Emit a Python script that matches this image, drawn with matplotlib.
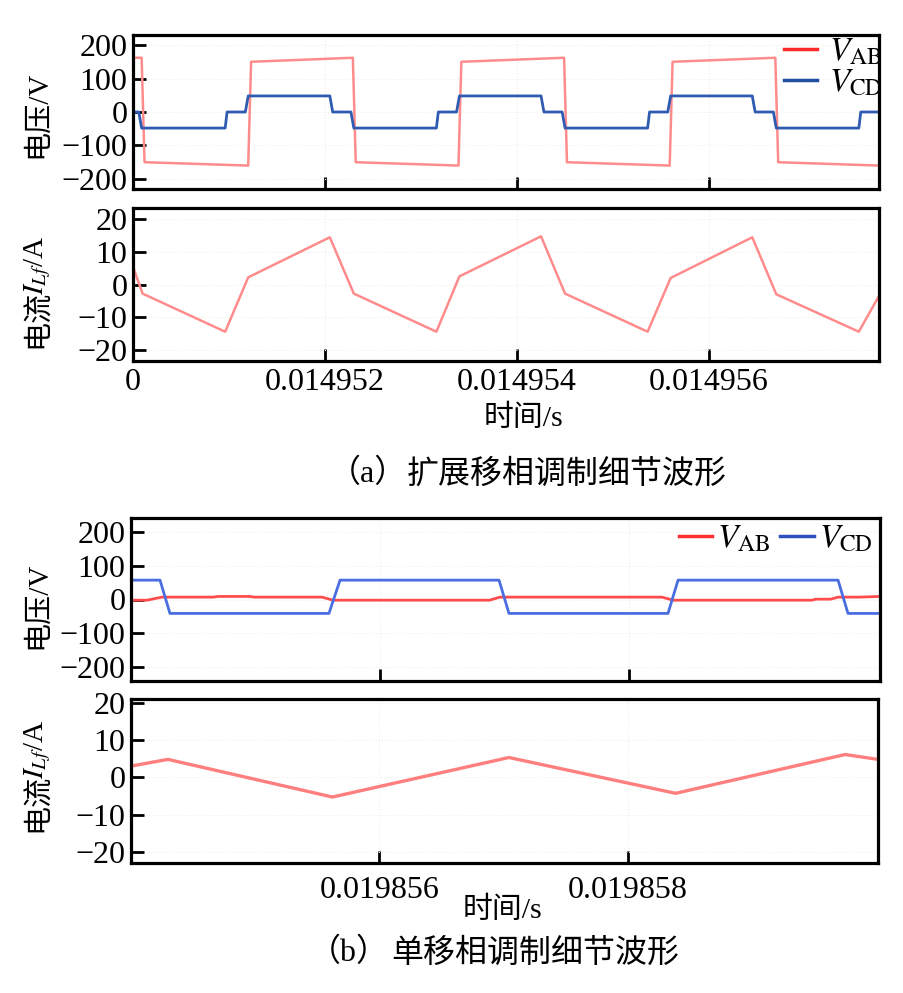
import matplotlib
matplotlib.use("Agg")
import matplotlib.pyplot as plt
from matplotlib.lines import Line2D

plt.rcParams['font.family'] = ['Liberation Serif', 'Noto Sans CJK SC', 'DejaVu Sans']
plt.rcParams['mathtext.fontset'] = 'stix'
plt.rcParams['axes.unicode_minus'] = True

# ---------------- data: panel (a) extended phase shift ----------------
t_a_vab = [0.01495000, 0.01495009, 0.01495012, 0.01495120, 0.01495123, 0.01495229,
           0.01495232, 0.01495339, 0.01495342, 0.01495449, 0.01495452, 0.01495559,
           0.01495562, 0.01495669, 0.01495672, 0.01495777]
v_a_ab = [162, 162, -150, -160, 150, 162, -150, -160, 150, 162, -150, -160, 150, 162, -150, -160]

t_a_vcd = [0.01495000, 0.01495006, 0.01495009, 0.01495096, 0.01495098, 0.01495117,
           0.01495120, 0.01495205, 0.01495208, 0.01495227, 0.01495230, 0.01495316,
           0.01495318, 0.01495337, 0.01495340, 0.01495425, 0.01495428, 0.01495447,
           0.01495450, 0.01495536, 0.01495538, 0.01495557, 0.01495560, 0.01495645,
           0.01495648, 0.01495667, 0.01495670, 0.01495756, 0.01495758, 0.01495777]
v_a_cd = [0, 0, -48, -48, 0, 0, 48, 48, 0, 0, -48, -48, 0, 0, 48, 48, 0, 0,
          -48, -48, 0, 0, 48, 48, 0, 0, -48, -48, 0, 0]

t_a_i = [0.01495000, 0.01495010, 0.01495096, 0.01495120, 0.01495205, 0.01495230,
         0.01495316, 0.01495340, 0.01495425, 0.01495450, 0.01495536, 0.01495560,
         0.01495645, 0.01495670, 0.01495756, 0.01495777]
i_a = [5.5, -2.8, -14.5, 2.2, 14.5, -2.8, -14.5, 2.5, 14.8, -2.8, -14.5, 2.0, 14.5, -3.0, -14.5, -3.5]

xticks_a = [0.014950, 0.014952, 0.014954, 0.014956]
xticklabels_a = ['0', '0.014952', '0.014954', '0.014956']
xlim_a = (0.014950, 0.01495777)

# ---------------- data: panel (b) single phase shift ----------------
t_b_vab = [0.019854000, 0.019854129, 0.019854249, 0.019854660, 0.019854700, 0.019854950,
           0.019854990, 0.019855534, 0.019855622, 0.019856880, 0.019856964, 0.019858265,
           0.019858353, 0.019859470, 0.019859500, 0.019859620, 0.019859680, 0.019859850,
           0.019860016]
v_b_ab = [-2, -2, 7, 7, 9, 9, 7, 7, -2, -2, 7, 7, -2, -2, 1, 1, 7, 7, 9]

t_b_vcd = [0.019854000, 0.019854233, 0.019854313, 0.019855590, 0.019855679, 0.019856956,
           0.019857036, 0.019858313, 0.019858394, 0.019859679, 0.019859759, 0.019860016]
v_b_cd = [57, 57, -41, -41, 57, 57, -41, -41, 57, 57, -41, -41]

t_b_i = [0.019854000, 0.019854297, 0.019855622, 0.019857044, 0.019858386, 0.019859751, 0.019860016]
i_b = [3.0, 4.8, -5.3, 5.3, -4.3, 6.1, 4.8]

xticks_b = [0.019856, 0.019858]
xticklabels_b = ['0.019856', '0.019858']
xlim_b = (0.019854, 0.019860016)

yticks_v = [-200, -100, 0, 100, 200]
yticks_i = [-20, -10, 0, 10, 20]

labels_leg = [r'$V_{\mathrm{AB}}$', r'$V_{\mathrm{CD}}$']

# ---------------- figure ----------------
W, H = 904, 993
fig = plt.figure(figsize=(W / 100, H / 100), dpi=100)

def ax_at(x0, y0, x1, y1):
    return fig.add_axes([x0 / W, 1 - y1 / H, (x1 - x0) / W, (y1 - y0) / H])

TICK_FS = 23
LAB_FS = 21

def style(ax, xpad):
    for s in ax.spines.values():
        s.set_linewidth(2.3)
        s.set_color('black')
    ax.tick_params(axis='both', direction='in', length=9, width=2.0,
                   labelsize=TICK_FS, top=False, right=False)
    ax.tick_params(axis='y', pad=4)
    ax.tick_params(axis='x', pad=xpad)
    ax.grid(True, color='#f1f0e6', linestyle=':', linewidth=0.8)
    ax.set_axisbelow(True)

# (a) top
ax1 = ax_at(133, 35, 879, 189)
ax1.plot(t_a_vab, v_a_ab, color='#ff8c8c', lw=1.8)
ax1.plot(t_a_vcd, v_a_cd, color='#2f5bb0', lw=2.0)
ax1.set_xlim(*xlim_a)
ax1.set_ylim(-230, 230)
ax1.set_yticks(yticks_v)
ax1.set_xticks(xticks_a)
ax1.set_xticklabels([])
style(ax1, 5)
h1 = [Line2D([], [], color='#ff2a2a', lw=2.5), Line2D([], [], color='#1f4fa0', lw=2.5)]
ax1.legend(h1, labels_leg, loc='upper right', bbox_to_anchor=(1.005, 0.985), frameon=False,
           fontsize=24, handlelength=1.0, handletextpad=0.35, labelspacing=0.0,
           borderaxespad=0.0, borderpad=0.0)

# (a) bottom
ax2 = ax_at(133, 208, 879, 361)
ax2.plot(t_a_i, i_a, color='#ff8c8c', lw=1.8)
ax2.set_xlim(*xlim_a)
ax2.set_ylim(-23.5, 23.5)
ax2.set_yticks(yticks_i)
ax2.set_xticks(xticks_a)
ax2.set_xticklabels(xticklabels_a)
style(ax2, 5)

# (b) top
ax3 = ax_at(131, 518, 880, 681)
ax3.plot(t_b_vab, v_b_ab, color='#ff4d4d', lw=2.0)
ax3.plot(t_b_vcd, v_b_cd, color='#4a6ee0', lw=2.0)
ax3.set_xlim(*xlim_b)
ax3.set_ylim(-240, 240)
ax3.set_yticks(yticks_v)
ax3.set_xticks(xticks_b)
ax3.set_xticklabels([])
style(ax3, 8)
h3 = [Line2D([], [], color='#ff3030', lw=2.5), Line2D([], [], color='#3050c0', lw=2.5)]
ax3.legend(h3, labels_leg, loc='upper right', bbox_to_anchor=(0.99, 0.965), frameon=False,
           fontsize=24, ncol=2, handlelength=1.0, handletextpad=0.15, columnspacing=0.3,
           borderaxespad=0.0, borderpad=0.0)

# (b) bottom
ax4 = ax_at(131, 699, 878, 863)
ax4.plot(t_b_i, i_b, color='#ff7f7f', lw=2.4)
ax4.set_xlim(*xlim_b)
ax4.set_ylim(-23, 21)
ax4.set_yticks(yticks_i)
ax4.set_xticks(xticks_b)
ax4.set_xticklabels(xticklabels_b)
style(ax4, 9)

# labels
def ftext(x, y, s, ha='center', va='center', **kw):
    fig.text(x / W, 1 - y / H, s, ha=ha, va=va, **kw)

ftext(38, 114, '电压/V', rotation=90, fontsize=LAB_FS)
ftext(38, 605, '电压/V', rotation=90, fontsize=LAB_FS)

# current labels: Chinese part and math part drawn as two pieces (bottom-to-top)
ftext(38, 348, '电流', rotation=90, fontsize=LAB_FS, va='bottom', family=['Noto Sans CJK SC'])
ftext(38, 295, r'$I_{Lf}$/A', rotation=90, fontsize=LAB_FS, va='bottom')
ftext(38, 832, '电流', rotation=90, fontsize=LAB_FS, va='bottom', family=['Noto Sans CJK SC'])
ftext(38, 779, r'$I_{Lf}$/A', rotation=90, fontsize=LAB_FS, va='bottom')

ftext(524, 418, '时间/s', fontsize=21.5)
ftext(503, 910, '时间/s', fontsize=21.5)

ftext(368, 474, '（a）', fontsize=23)
ftext(567, 474, '扩展移相调制细节波形', fontsize=23, family=['Noto Sans CJK SC'])
ftext(349, 953, '（b）', fontsize=23)
ftext(535, 953, '单移相调制细节波形', fontsize=23, family=['Noto Sans CJK SC'])

fig.savefig('out.png', dpi=100)
